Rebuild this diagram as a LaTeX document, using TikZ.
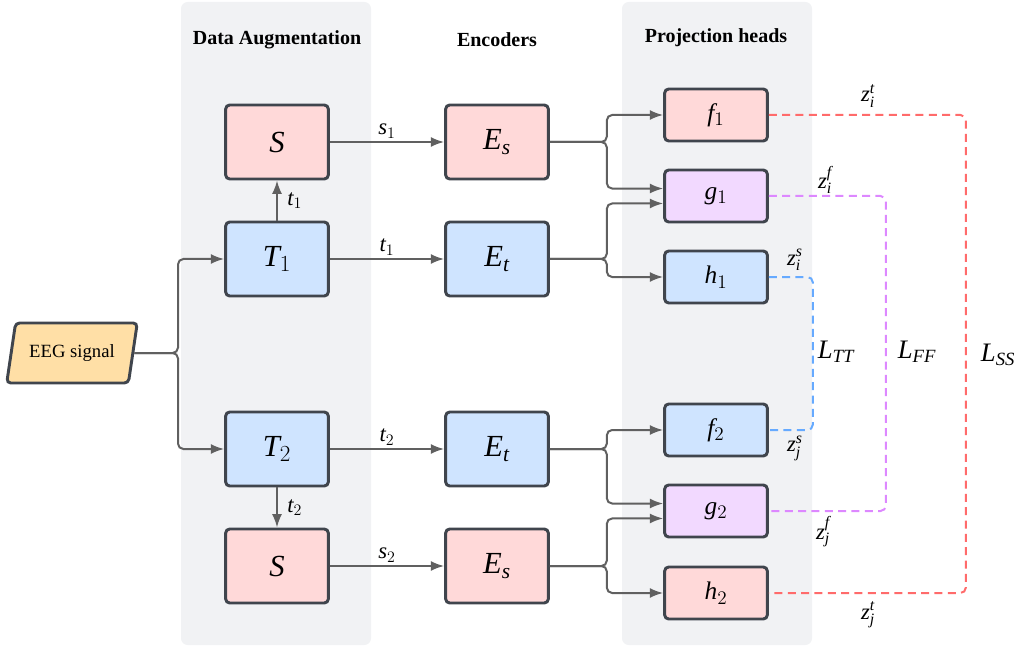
\documentclass[tikz,border=0pt]{standalone}
\usepackage{fontspec}
\setmainfont{Liberation Serif}
\DeclareSymbolFont{letters}{TU}{\rmdefault}{m}{it}
\usepackage{xcolor}
\usepackage{tikz}
\usetikzlibrary{positioning}
\usetikzlibrary{shapes.geometric}
\usetikzlibrary{arrows.meta}

\definecolor{panelgray}{HTML}{F1F2F4}
\definecolor{boxline}{HTML}{40454D}
\definecolor{arrowgray}{HTML}{606060}
\definecolor{pinkfill}{HTML}{FFD9D9}
\definecolor{bluefill}{HTML}{CFE4FF}
\definecolor{purplefill}{HTML}{F2D9FF}
\definecolor{orangefill}{HTML}{FFDFA6}
\definecolor{redloss}{HTML}{FF6B6B}
\definecolor{purpleloss}{HTML}{DD88FF}
\definecolor{blueloss}{HTML}{66AAFF}

\begin{document}
\begin{tikzpicture}[x=0.75pt,y=-0.75pt]
	\tikzstyle{panel} = [fill=panelgray, rounded corners=5pt]
	\tikzstyle{block} = [draw=boxline, line width=2.2pt, rounded corners=3pt, minimum width=77pt, minimum height=55.5pt, font=\fontsize{23}{25}\selectfont]
	\tikzstyle{head}  = [block, minimum height=39pt, font=\fontsize{19}{21}\selectfont]
	\tikzstyle{eeg}   = [trapezium, trapezium left angle=74, trapezium right angle=106, trapezium stretches=true, draw=boxline, line width=2.2pt, rounded corners=3pt, fill=orangefill, minimum width=98pt, minimum height=45pt, font=\fontsize{14}{16}\selectfont]
	\tikzstyle{title} = [font=\fontsize{15}{17}\selectfont\bfseries]
	\tikzstyle{flow}  = [->, >={Latex[length=10pt,width=7.5pt]}, draw=arrowgray, line width=1.5pt, rounded corners=4pt]
	\tikzstyle{lbl}   = [font=\fontsize{17}{19}\selectfont, inner sep=2pt]
	\tikzstyle{loss}  = [line width=1.5pt, dash pattern=on 6pt off 4pt, rounded corners=4pt]
	\tikzstyle{lossname} = [font=\fontsize{20}{24}\selectfont]
	\useasboundingbox (0,0) rectangle (1025,649);

	% panels
	\fill[panel] (181,2) rectangle (371,645);
	\fill[panel] (622,2) rectangle (812,645);
	\node[title] (tAug) at (277,40) {Data Augmentation};
	\node[title] (tEnc) at (497,40) {Encoders};
	\node[title] (tProj) at (716,38) {Projection heads};

	% input
	\node[eeg] (eeg) at (72,353) {EEG signal};
	\coordinate (split) at (178,353);

	% augmentation
	\node[block, fill=pinkfill] (S1) at (277,142) {$S$};
	\node[block, fill=bluefill] (T1) at (277,259) {$T_1$};
	\node[block, fill=bluefill] (T2) at (277,449) {$T_2$};
	\node[block, fill=pinkfill] (S2) at (277,566) {$S$};

	% encoders
	\node[block, fill=pinkfill] (Es1) at (497,142) {$E_s$};
	\node[block, fill=bluefill] (Et1) at (497,259) {$E_t$};
	\node[block, fill=bluefill] (Et2) at (497,449) {$E_t$};
	\node[block, fill=pinkfill] (Es2) at (497,566) {$E_s$};

	% heads
	\node[head, fill=pinkfill]   (f1) at (716,115) {$f_1$};
	\node[head, fill=purplefill] (g1) at (716,196) {$g_1$};
	\node[head, fill=bluefill]   (h1) at (716,277) {$h_1$};
	\node[head, fill=bluefill]   (f2) at (716,430) {$f_2$};
	\node[head, fill=purplefill] (g2) at (716,511) {$g_2$};
	\node[head, fill=pinkfill]   (h2) at (716,593) {$h_2$};

	\draw[flow] (eeg.east) -- (split) |- (T1.west);
	\draw[flow] (eeg.east) -- (split) |- (T2.west);
	\draw[flow] (T1) -- node[lbl, right=5pt] {$t_1$} (S1);
	\draw[flow] (T2) -- node[lbl, right=5pt] {$t_2$} (S2);
	\draw[flow] (S1) -- node[lbl, above] {$s_1$} (Es1);
	\draw[flow] (T1) -- node[lbl, above] {$t_1$} (Et1);
	\draw[flow] (T2) -- node[lbl, above] {$t_2$} (Et2);
	\draw[flow] (S2) -- node[lbl, above] {$s_2$} (Es2);

	\draw[flow] (Es1.east) -- ++(57,0) |- (f1.west);
	\draw[flow] (Es1.east) -- ++(57,0) |- ([yshift=5.6pt]g1.west);
	\draw[flow] (Et1.east) -- ++(57,0) |- ([yshift=-5.6pt]g1.west);
	\draw[flow] (Et1.east) -- ++(57,0) |- (h1.west);
	\draw[flow] (Et2.east) -- ++(57,0) |- (f2.west);
	\draw[flow] (Et2.east) -- ++(57,0) |- ([yshift=5.6pt]g2.west);
	\draw[flow] (Es2.east) -- ++(57,0) |- ([yshift=-5.6pt]g2.west);
	\draw[flow] (Es2.east) -- ++(57,0) |- (h2.west);

	% losses
	\draw[loss, draw=redloss] (f1.east) -- ++(197,0) |- (h2.east);
	\draw[loss, draw=purpleloss] (g1.east) -- ++(117,0) |- (g2.east);
	\draw[loss, draw=blueloss] (h1.east) -- ++(44,0) |- (f2.east);
	\node[lbl] (zit) at (868,96) {$z_i^t$};
	\node[lbl] (zjt) at (868,615) {$z_j^t$};
	\node[lbl] (zif) at (825,180) {$z_i^f$};
	\node[lbl] (zjf) at (823,532) {$z_j^f$};
	\node[lbl] (zis) at (795,260) {$z_i^s$};
	\node[lbl] (zjs) at (795,448) {$z_j^s$};
	\node[lossname] (LTT) at (836,352) {$L_{TT}$};
	\node[lossname] (LFF) at (917,352) {$L_{FF}$};
	\node[lossname] (LSS) at (998,355) {$L_{SS}$};
\end{tikzpicture}
\end{document}
